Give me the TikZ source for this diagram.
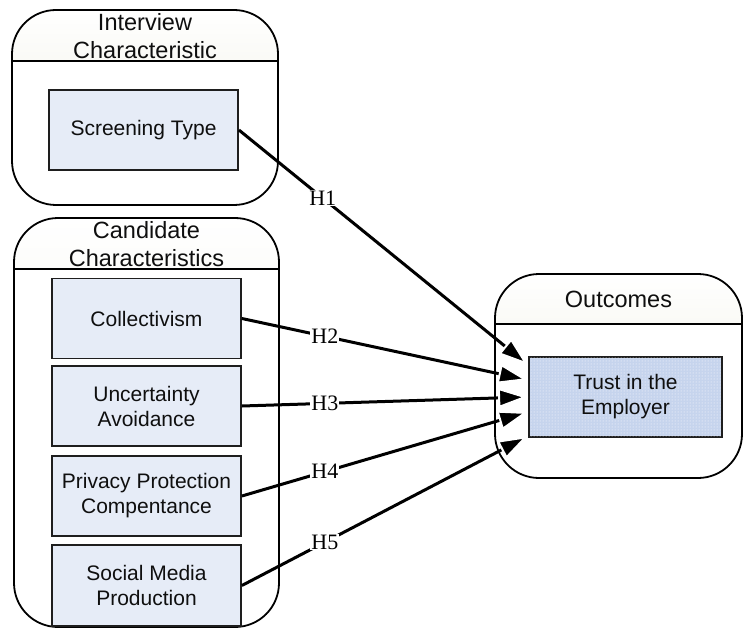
\documentclass[tikz,border=0pt]{standalone}
\usepackage{fontspec}
\setmainfont{Liberation Sans}
\newfontfamily\labfont{Liberation Serif}
\usetikzlibrary{arrows.meta,patterns,calc}
\definecolor{boxfill}{RGB}{230,236,247}
\definecolor{trustfill}{RGB}{198,212,237}
\definecolor{headfill}{RGB}{234,234,218}
\definecolor{boxline}{RGB}{30,30,30}
\definecolor{txt}{RGB}{15,15,15}
\tikzset{
 container/.style={draw=black, line width=1.8pt, rounded corners=44pt, inner sep=0pt,
   path picture={
     \fill[sharp corners, top color=white, bottom color=headfill]
       (path picture bounding box.north west) rectangle ([yshift=-#1]path picture bounding box.north east);
     \draw[sharp corners, line width=1.8pt]
       ([yshift=-#1]path picture bounding box.north west) -- ([yshift=-#1]path picture bounding box.north east);}},
 headtext/.style={font=\fontsize{23.5}{27.5}\selectfont, align=center, inner sep=0pt, text=txt},
 varbox/.style={draw=boxline, line width=1.8pt, fill=boxfill, minimum width=189pt, minimum height=80pt,
   align=center, inner sep=0pt, font=\fontsize{21}{25}\selectfont, text=txt},
 link/.style={line width=3pt, -{Triangle[length=30pt,width=20pt,line width=2pt,color=white,fill=black]}},
 hlab/.style={font=\labfont\fontsize{22}{25}\selectfont, fill=white, inner sep=1pt, pos=0.29, text=black}
}
\begin{document}
\begin{tikzpicture}[x=1pt,y=-1pt]
\useasboundingbox (0,0) rectangle (746,628);
% containers
\node[container=51pt, minimum width=266pt, minimum height=195pt] (interview) at (145,107.5) {};
\node[headtext] (interviewhead) at (145,36) {Interview\\Characteristic};
\node[container=51pt, minimum width=265pt, minimum height=409pt] (candidate) at (146.5,422.5) {};
\node[headtext] (candidatehead) at (146.5,244) {Candidate\\Characteristics};
\node[container=50pt, minimum width=247pt, minimum height=204pt] (outcomes) at (618.5,376) {};
\node[headtext] (outcomeshead) at (618.5,299) {Outcomes};
% variable boxes
\node[varbox] (screening) at (143.5,130) {Screening Type};
\node[varbox] (collectivism) at (146.5,318.5) {Collectivism};
\node[varbox] (uncertainty) at (146.5,406) {Uncertainty\\Avoidance};
\node[varbox] (privacy) at (146.5,496) {Privacy Protection\\Compentance};
\node[varbox, minimum height=81pt] (social) at (146.5,585.5) {Social Media\\Production};
\node[varbox, minimum width=193pt, fill=trustfill, postaction={pattern=dots, pattern color=white}] (trust) at (625.5,397) {Trust in the\\Employer};
% connectors
\draw[link] (screening.east) -- ([yshift=32pt]trust.west) node[hlab] {H1};
\draw[link] (collectivism.east) -- ([yshift=17pt]trust.west) node[hlab] {H2};
\draw[link] (uncertainty.east) -- (trust.west) node[hlab] {H3};
\draw[link] (privacy.east) -- ([yshift=-15pt]trust.west) node[hlab] {H4};
\draw[link] (social.east) -- ([yshift=-39pt]trust.west) node[hlab] {H5};
\end{tikzpicture}
\end{document}
